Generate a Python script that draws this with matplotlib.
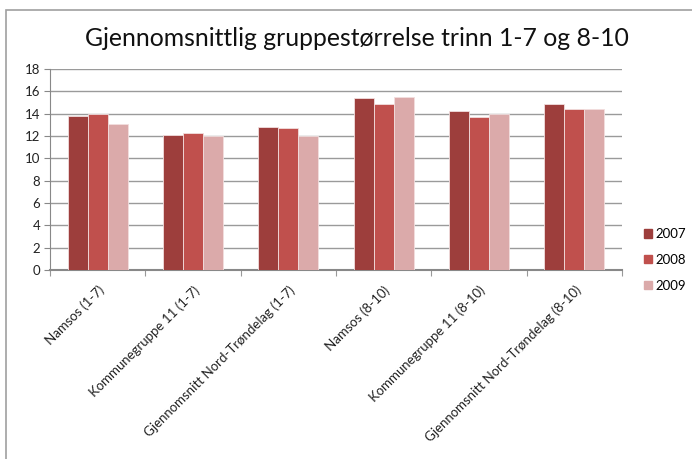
import numpy as np
import matplotlib
matplotlib.use("Agg")
import matplotlib.pyplot as plt
from matplotlib.patches import Rectangle, Patch

categories = ["Namsos (1-7)", "Kommunegruppe 11 (1-7)", "Gjennomsnitt Nord-Trøndelag (1-7)",
              "Namsos (8-10)", "Kommunegruppe 11 (8-10)", "Gjennomsnitt Nord-Trøndelag (8-10)"]
years = ["2007", "2008", "2009"]
v2007 = [13.8, 12.1, 12.8, 15.4, 14.2, 14.9]
v2008 = [14.0, 12.3, 12.7, 14.9, 13.7, 14.4]
v2009 = [13.1, 12.0, 12.0, 15.5, 14.0, 14.4]
yticks = [0, 2, 4, 6, 8, 10, 12, 14, 16, 18]

colors = ["#9d3e3c", "#c0504d", "#dbaaaa"]
plt.rcParams["font.family"] = ["Lato", "DejaVu Sans"]

W, H = 692, 459
fig = plt.figure(figsize=(W / 100, H / 100), dpi=100)
ax = fig.add_axes([50 / W, 1 - 270 / H, 572 / W, 201 / H])

# outer chart frame, runs off the right and bottom edge
fig.patches.append(Rectangle((6 / W, -0.2), 1.2, 1 - 10 / H + 0.2, transform=fig.transFigure,
                             fill=False, edgecolor="#a0a0a0", linewidth=1.2))

x = np.arange(len(categories))
bw = 0.21
for i, (vals, c) in enumerate(zip([v2007, v2008, v2009], colors)):
    ax.bar(x + (i - 1) * bw, vals, bw, color=c, edgecolor="#f2dede", linewidth=0.6,
           label=years[i], zorder=3)

ax.set_xlim(-0.5, len(categories) - 0.5)
ax.set_ylim(0, 18)
ax.set_yticks(yticks)
ax.tick_params(axis="y", labelsize=9.5, length=4, color="#888888", pad=3, labelcolor="#222222")
ax.yaxis.grid(True, color="#9a9a9a", linewidth=1.0, zorder=0)

ax.set_xticks(np.arange(len(categories) + 1) - 0.5, minor=False)
ax.set_xticklabels([])
ax.set_xticks(x, minor=True)
ax.set_xticklabels(categories, minor=True, rotation=45, ha="right", rotation_mode="anchor",
                   fontsize=9.5, color="#222222")
ax.tick_params(axis="x", which="major", length=4, color="#999999")
ax.tick_params(axis="x", which="minor", length=0, pad=10)

for s in ["top", "right"]:
    ax.spines[s].set_visible(False)
ax.spines["left"].set_color("#888888")
ax.spines["bottom"].set_color("#888888")
ax.spines["bottom"].set_linewidth(1.5)

handles = [Patch(color=c, label=y) for c, y in zip(colors, years)]
fig.legend(handles=handles, loc="upper left", bbox_to_anchor=(644 / W, 1 - 228 / H),
           frameon=False, fontsize=9.5, handlelength=0.6, handleheight=0.6,
           handletextpad=0.25, labelspacing=1.05, borderpad=0, borderaxespad=0)

fig.text(357 / W, 1 - 38 / H, "Gjennomsnittlig gruppestørrelse trinn 1-7 og 8-10",
         ha="center", va="center", fontsize=17.8, color="#111111")

fig.savefig("out.png", dpi=100)
